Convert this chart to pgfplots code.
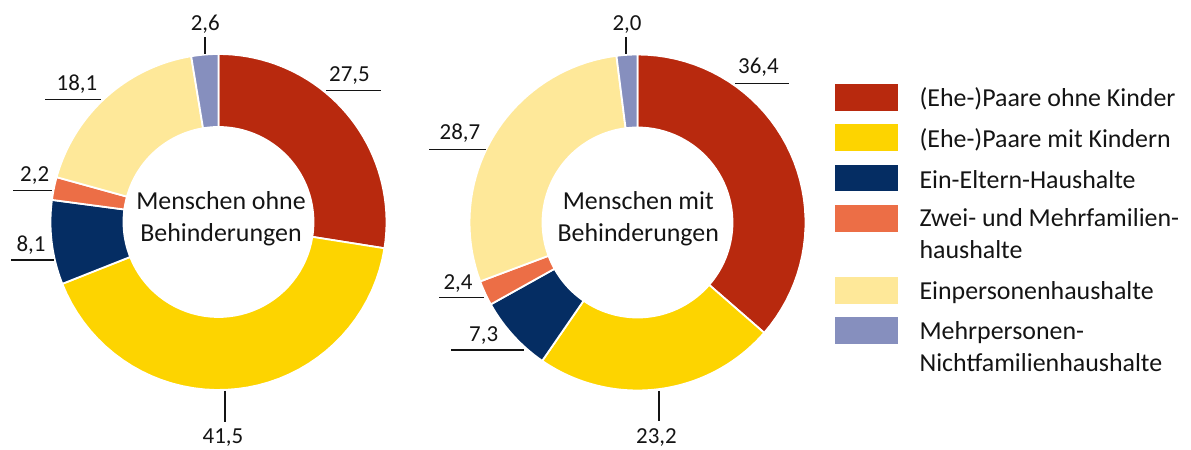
\documentclass[border=0pt]{standalone}
\usepackage{fontspec}
\setmainfont{Carlito}
\usepackage{pgfplots}
\pgfplotsset{compat=1.18}

\definecolor{cRed}{HTML}{B8290E}
\definecolor{cYel}{HTML}{FDD400}
\definecolor{cBlu}{HTML}{052D63}
\definecolor{cOra}{HTML}{EC6E46}
\definecolor{cLye}{HTML}{FEE899}
\definecolor{cLav}{HTML}{868FBE}
\definecolor{ink}{HTML}{141414}

\newcommand{\numfont}{\fontsize{23}{27}\selectfont}
\newcommand{\bigfont}{\fontsize{26}{31}\selectfont}
\tikzset{leader/.style={draw=ink, line width=1.5bp}}

% one ring segment: centre x, centre y, from (%), to (%), colour
\newcommand{\ring}[5]{%
  \addplot[fill=#5, draw=white, line width=1.8bp, line join=bevel,
    domain=0:3.5, samples=141]
    ({#1+ringr(x)*sin(ringa(x,3.6*(#3),3.6*(#4)))},
     {#2-ringr(x)*cos(ringa(x,3.6*(#3),3.6*(#4)))});}
\newcommand{\val}[3]{\node[anchor=base, font=\numfont, text=ink] at (axis cs:#1,#2) {#3};}

\begin{document}
\begin{tikzpicture}
\begin{axis}[
  scale only axis, width=1191bp, height=450bp,
  xmin=0, xmax=1191, ymin=0, ymax=450, y dir=reverse,
  hide axis, clip=false,
  declare function={
    ringa(\t,\a,\b)=(\t<1.5)*(\a+(\b-\a)*min(\t,1))
      +and(\t>=1.5,\t<3)*(\b-(\b-\a)*min(max(\t-1.5,0),1))+(\t>=3)*\a;
    ringr(\t)=or(\t<1.5,\t>=3)*168+and(\t>=1.5,\t<3)*95;
  },
]
% Menschen ohne Behinderungen: 27.5, 41.5, 8.1, 2.2, 18.1, 2.6
\ring{218.5}{222}{0}{27.5}{cRed}
\ring{218.5}{222}{27.5}{27.5+41.5}{cYel}
\ring{218.5}{222}{27.5+41.5}{27.5+41.5+8.1}{cBlu}
\ring{218.5}{222}{27.5+41.5+8.1}{27.5+41.5+8.1+2.2}{cOra}
\ring{218.5}{222}{27.5+41.5+8.1+2.2}{27.5+41.5+8.1+2.2+18.1}{cLye}
\ring{218.5}{222}{27.5+41.5+8.1+2.2+18.1}{100}{cLav}
% Menschen mit Behinderungen: 36.4, 23.2, 7.3, 2.4, 28.7, 2.0
\ring{637.5}{222.5}{0}{36.4}{cRed}
\ring{637.5}{222.5}{36.4}{36.4+23.2}{cYel}
\ring{637.5}{222.5}{36.4+23.2}{36.4+23.2+7.3}{cBlu}
\ring{637.5}{222.5}{36.4+23.2+7.3}{36.4+23.2+7.3+2.4}{cOra}
\ring{637.5}{222.5}{36.4+23.2+7.3+2.4}{36.4+23.2+7.3+2.4+28.7}{cLye}
\ring{637.5}{222.5}{36.4+23.2+7.3+2.4+28.7}{100}{cLav}

% centre texts
\node[anchor=base, font=\bigfont, text=ink] at (axis cs:221,210) {Menschen ohne};
\node[anchor=base, font=\bigfont, text=ink] at (axis cs:221,241.7) {Behinderungen};
\node[anchor=base, font=\bigfont, text=ink] at (axis cs:638.3,210) {Menschen mit};
\node[anchor=base, font=\bigfont, text=ink] at (axis cs:638.3,241.7) {Behinderungen};

% value labels, left ring
\draw[leader] (axis cs:205,54) -- (axis cs:205,37);
\val{205.3}{30.7}{2,6}
\draw[leader] (axis cs:326,90.7) -- (axis cs:381,90.7);
\val{349.5}{81.7}{27,5}
\draw[leader] (axis cs:45,99.3) -- (axis cs:101,99.3);
\val{77}{90.7}{18,1}
\draw[leader] (axis cs:13,190.7) -- (axis cs:52,190.7);
\val{34.7}{181.7}{2,2}
\draw[leader] (axis cs:11,260) -- (axis cs:54,260);
\val{31}{251.7}{8,1}
\draw[leader] (axis cs:225,391) -- (axis cs:225,422);
\val{223}{443.3}{41,5}

% value labels, right ring
\draw[leader] (axis cs:626,54) -- (axis cs:626,37);
\val{627}{30.7}{2,0}
\draw[leader] (axis cs:735,83.3) -- (axis cs:789,83.3);
\val{758.5}{74}{36,4}
\draw[leader] (axis cs:429,149.3) -- (axis cs:486,149.3);
\val{460}{140}{28,7}
\draw[leader] (axis cs:439,297.3) -- (axis cs:484,297.3);
\val{458}{289.3}{2,4}
\draw[leader] (axis cs:451,350) -- (axis cs:524.3,350);
\val{483.7}{341.7}{7,3}
\draw[leader] (axis cs:659,391) -- (axis cs:659,421);
\val{656.5}{443.3}{23,2}

% legend
\fill[cRed] (axis cs:835,84) rectangle (axis cs:898,111);
\node[anchor=base west, font=\bigfont, text=ink] at (axis cs:916,106.7) {(Ehe-)Paare ohne Kinder};
\fill[cYel] (axis cs:835,124.3) rectangle (axis cs:898,151);
\node[anchor=base west, font=\bigfont, text=ink] at (axis cs:916,147.3) {(Ehe-)Paare mit Kindern};
\fill[cBlu] (axis cs:835,165) rectangle (axis cs:898,191.5);
\node[anchor=base west, font=\bigfont, text=ink] at (axis cs:916,188.3) {Ein-Eltern-Haushalte};
\fill[cOra] (axis cs:835,205) rectangle (axis cs:898,231.7);
\node[anchor=base west, font=\bigfont, text=ink] at (axis cs:916,226.7) {Zwei- und Mehrfamilien-};
\node[anchor=base west, font=\bigfont, text=ink] at (axis cs:916,259) {haushalte};
\fill[cLye] (axis cs:835,277.3) rectangle (axis cs:898,304);
\node[anchor=base west, font=\bigfont, text=ink] at (axis cs:916,300) {Einpersonenhaushalte};
\fill[cLav] (axis cs:835,317.3) rectangle (axis cs:898,344);
\node[anchor=base west, font=\bigfont, text=ink] at (axis cs:916,340) {Mehrpersonen-};
\node[anchor=base west, font=\bigfont, text=ink] at (axis cs:916,371.7) {Nichtfamilienhaushalte};
\end{axis}
\pgfresetboundingbox
\path[use as bounding box] (current axis.south west) rectangle (current axis.north east);
\end{tikzpicture}
\end{document}
